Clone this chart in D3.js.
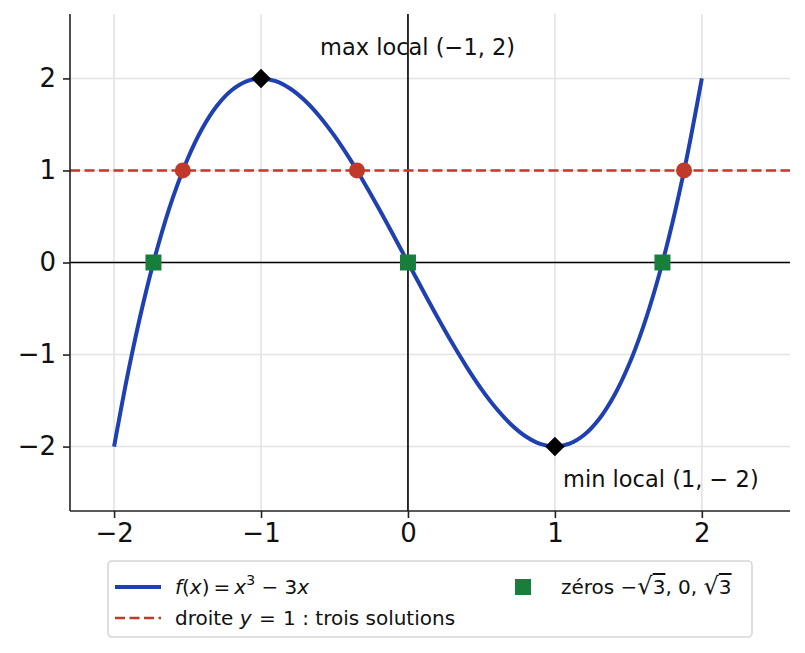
<!DOCTYPE html>
<html>
<head>
<meta charset="utf-8">
<script src="https://cdn.jsdelivr.net/npm/d3@7"></script>
<style>
  body { margin: 0; background: #fff; }
  svg { font-family: "DejaVu Sans", sans-serif; }
</style>
</head>
<body>
<svg width="805" height="653"></svg>
<script>
// f(x) = x^3 - 3x
const curveX = [-2.0, -1.9, -1.8, -1.7, -1.6, -1.5, -1.4, -1.3, -1.2, -1.1, -1.0,
                -0.9, -0.8, -0.7, -0.6, -0.5, -0.4, -0.3, -0.2, -0.1, 0.0,
                0.1, 0.2, 0.3, 0.4, 0.5, 0.6, 0.7, 0.8, 0.9, 1.0,
                1.1, 1.2, 1.3, 1.4, 1.5, 1.6, 1.7, 1.8, 1.9, 2.0];
const curveY = [-2.0, -1.159, -0.432, 0.187, 0.704, 1.125, 1.456, 1.703, 1.872, 1.969, 2.0,
                1.971, 1.888, 1.757, 1.584, 1.375, 1.136, 0.873, 0.592, 0.299, 0.0,
                -0.299, -0.592, -0.873, -1.136, -1.375, -1.584, -1.757, -1.888, -1.971, -2.0,
                -1.969, -1.872, -1.703, -1.456, -1.125, -0.704, -0.187, 0.432, 1.159, 2.0];

const lineLevel = 1;
const crossX = [-1.532, -0.347, 1.879];
const zeroX = [-1.732, 0, 1.732];
const extremaX = [-1, 1];
const extremaY = [2, -2];

const xTicks = [-2, -1, 0, 1, 2];
const yTicks = [-2, -1, 0, 1, 2];

const svg = d3.select("svg"),
      margin = {top: 14, right: 15, bottom: 142, left: 70},
      width = +svg.attr("width") - margin.left - margin.right,
      height = +svg.attr("height") - margin.top - margin.bottom;

const x = d3.scaleLinear().domain([-2.3, 2.6]).range([0, width]),
      y = d3.scaleLinear().domain([-2.7, 2.7]).range([height, 0]);

const blue = "#1f40b0", red = "#c0392b", green = "#177e3c";

const g = svg.append("g")
    .attr("transform", `translate(${margin.left},${margin.top})`);

// grid
g.append("g").selectAll("line").data(xTicks).join("line")
    .attr("x1", d => x(d)).attr("x2", d => x(d))
    .attr("y1", 0).attr("y2", height)
    .attr("stroke", "#e3e3e3").attr("stroke-width", 1.6);
g.append("g").selectAll("line").data(yTicks).join("line")
    .attr("y1", d => y(d)).attr("y2", d => y(d))
    .attr("x1", 0).attr("x2", width)
    .attr("stroke", "#e3e3e3").attr("stroke-width", 1.6);

// axes through origin
g.append("line")
    .attr("x1", 0).attr("x2", width)
    .attr("y1", y(0)).attr("y2", y(0))
    .attr("stroke", "#000").attr("stroke-width", 1.6);
g.append("line")
    .attr("x1", x(0)).attr("x2", x(0))
    .attr("y1", 0).attr("y2", height)
    .attr("stroke", "#000").attr("stroke-width", 1.6);

// horizontal line y = 1
g.append("line")
    .attr("x1", 0).attr("x2", width)
    .attr("y1", y(lineLevel)).attr("y2", y(lineLevel))
    .attr("stroke", red).attr("stroke-width", 2.6)
    .attr("stroke-dasharray", "10,4.5");

// curve
const pts = curveX.map((v, i) => [v, curveY[i]]);
const line = d3.line()
    .x(d => x(d[0]))
    .y(d => y(d[1]))
    .curve(d3.curveCatmullRom);

g.append("path")
    .datum(pts)
    .attr("fill", "none")
    .attr("stroke", blue)
    .attr("stroke-width", 4)
    .attr("stroke-linejoin", "round")
    .attr("d", line);

// intersections with y = 1
g.append("g").selectAll("circle").data(crossX).join("circle")
    .attr("cx", d => x(d)).attr("cy", y(lineLevel))
    .attr("r", 8).attr("fill", red);

// zeros
const sq = 16;
g.append("g").selectAll("rect").data(zeroX).join("rect")
    .attr("x", d => x(d) - sq / 2).attr("y", y(0) - sq / 2)
    .attr("width", sq).attr("height", sq).attr("fill", green);

// local extrema
g.append("g").selectAll("path").data(extremaX).join("path")
    .attr("transform", (d, i) => `translate(${x(d)},${y(extremaY[i])}) rotate(45)`)
    .attr("d", d3.symbol(d3.symbolSquare, 190))
    .attr("fill", "#000");

// axes
const fmt = d3.format("d");
const xAxis = g.append("g")
    .attr("transform", `translate(0,${height})`)
    .call(d3.axisBottom(x).tickValues(xTicks).tickFormat(fmt).tickSize(7).tickPadding(6));
const yAxis = g.append("g")
    .call(d3.axisLeft(y).tickValues(yTicks).tickFormat(fmt).tickSize(7).tickPadding(7));

[xAxis, yAxis].forEach(a => {
  a.select(".domain").attr("stroke", "#222").attr("stroke-width", 1.6)
      .attr("d", a === xAxis ? `M0,0H${width}` : `M0,0V${height}`);
  a.selectAll(".tick line").attr("stroke", "#222").attr("stroke-width", 1.6);
  a.selectAll(".tick text").attr("fill", "#111")
      .style("font-family", "DejaVu Sans").style("font-size", "26px");
});

// annotations
g.append("text")
    .attr("x", 320 - margin.left).attr("y", 55 - margin.top)
    .attr("font-size", 22.5).attr("fill", "#111")
    .text("max local (−1, 2)");
g.append("text")
    .attr("x", 563 - margin.left).attr("y", 487 - margin.top)
    .attr("font-size", 22.5).attr("fill", "#111")
    .text("min local (1, − 2)");

// legend
const lg = svg.append("g").attr("transform", "translate(108,561)");
lg.append("rect")
    .attr("x", 0).attr("y", 0).attr("width", 644).attr("height", 76)
    .attr("rx", 4).attr("fill", "#fff")
    .attr("stroke", "#d6d6d6").attr("stroke-width", 1.6);

lg.append("line").attr("x1", 7).attr("x2", 53).attr("y1", 26).attr("y2", 26)
    .attr("stroke", blue).attr("stroke-width", 4);
lg.append("line").attr("x1", 7).attr("x2", 53).attr("y1", 57).attr("y2", 57)
    .attr("stroke", red).attr("stroke-width", 2.6).attr("stroke-dasharray", "10,4.5");
lg.append("rect").attr("x", 407).attr("y", 18).attr("width", 16).attr("height", 16)
    .attr("fill", green);

const legendText = lg.append("g").attr("font-size", 20).attr("fill", "#111");
legendText.append("text").attr("x", 67).attr("y", 33)
    .html('<tspan font-style="italic">f</tspan>(<tspan font-style="italic">x</tspan>)<tspan dx="4">=</tspan><tspan dx="4" font-style="italic">x</tspan><tspan dy="-9" font-size="14">3</tspan><tspan dy="9"> − 3</tspan><tspan font-style="italic">x</tspan>');
legendText.append("text").attr("x", 67).attr("y", 64)
    .html('droite <tspan font-style="italic">y</tspan> <tspan dx="1">=</tspan> <tspan dx="1">1 : trois solutions</tspan>');
legendText.append("text").attr("x", 453).attr("y", 33)
    .html('zéros −<tspan font-size="24">√</tspan><tspan text-decoration="overline">3</tspan>, 0, <tspan font-size="24">√</tspan><tspan text-decoration="overline">3</tspan>');
</script>
</body>
</html>
